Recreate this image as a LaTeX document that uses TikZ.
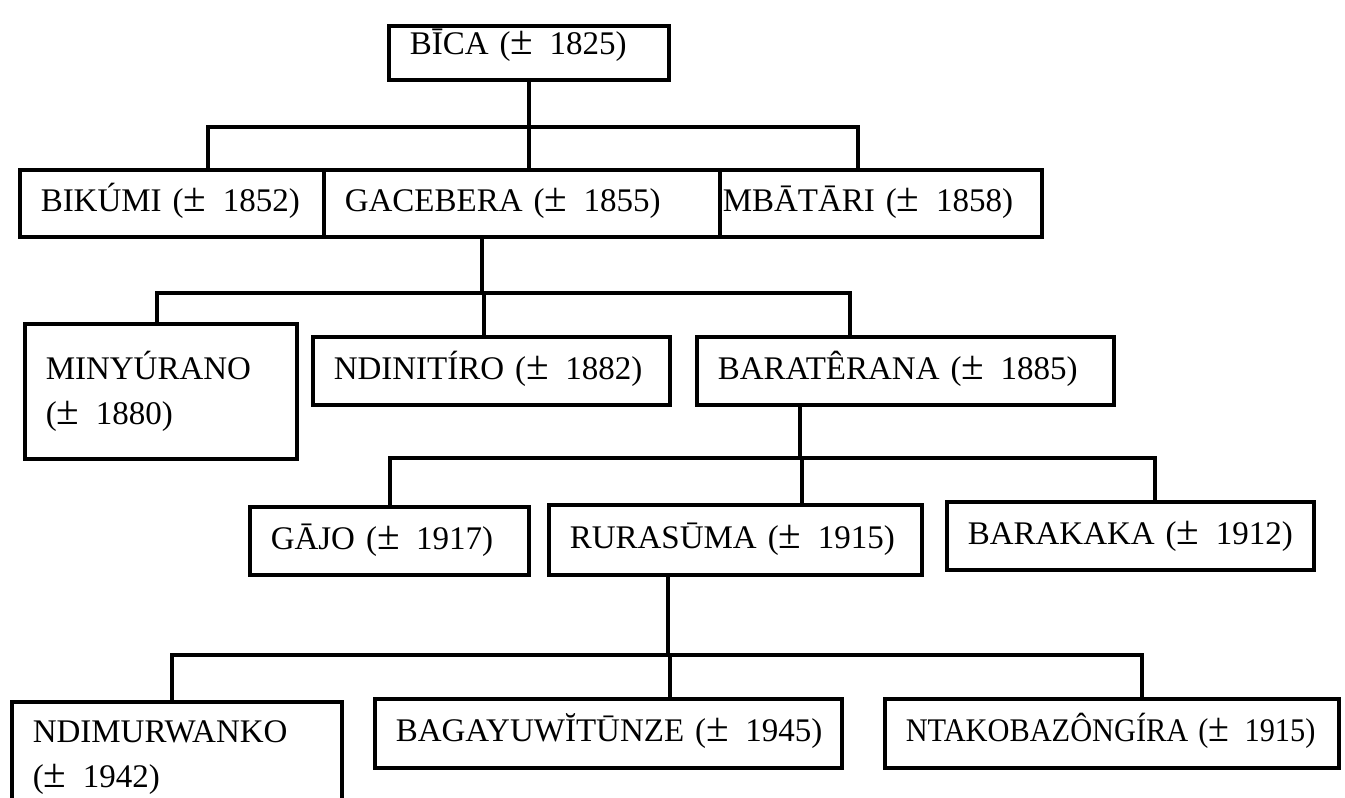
\documentclass[tikz,border=0pt]{standalone}
\usepackage{fontspec}
\setmainfont{Liberation Serif}
\newcommand{\approxyr}[1]{(\scalebox{1.25}{±}~\,#1)}
\begin{document}
\begin{tikzpicture}[x=1pt, y=-1pt,
    famBox/.style={draw, line width=3.5pt, anchor=north west, align=left,
        inner xsep=21pt, inner ysep=0pt, font=\fontsize{33}{45}\selectfont},
    oneLine/.style={text height=24pt, text depth=7pt},
    link/.style={line width=3.5pt}]

    % Frame of the picture
    \useasboundingbox (0,0) rectangle (1345,798);
    \clip (0,0) rectangle (1345,798);

    % Top ancestor
    \node[famBox, oneLine, text depth=20pt, minimum height=54pt, text width=238pt] (bica) at (387,24) {\mbox{BĪCA \approxyr{1825}}};

    % Second generation
    \node[famBox, oneLine, minimum height=67pt, text width=262pt] (bikumi) at (18,168) {\mbox{BIKÚMI \approxyr{1852}}};
    \node[famBox, oneLine, minimum height=67pt, text width=354pt] (gacebera) at (322,168) {\mbox{GACEBERA \approxyr{1855}}};
    \node[famBox, oneLine, minimum height=67pt, inner xsep=3pt, text width=316pt] (mbatari) at (718,168) {\mbox{MBĀTĀRI \approxyr{1858}}};

    % Third generation
    \node[famBox, minimum height=135pt, text width=230pt] (minyurano) at (23,322) {MINYÚRANO\\\approxyr{1880}};
    \node[famBox, oneLine, minimum height=68pt, text width=315pt] (ndinitiro) at (311,335) {\mbox{NDINITÍRO \approxyr{1882}}};
    \node[famBox, oneLine, minimum height=68pt, text width=375pt] (baraterana) at (695,335) {\mbox{BARATÊRANA \approxyr{1885}}};

    % Fourth generation
    \node[famBox, oneLine, minimum height=68pt, text width=237pt] (gajo) at (248,505) {\mbox{GĀJO \approxyr{1917}}};
    \node[famBox, oneLine, minimum height=70pt, text width=331pt] (rurasuma) at (547,503) {\mbox{RURASŪMA \approxyr{1915}}};
    \node[famBox, oneLine, minimum height=68pt, text width=325pt] (barakaka) at (945,500) {\mbox{BARAKAKA \approxyr{1912}}};

    % Fifth generation
    \node[famBox, minimum height=112pt, text width=288pt] (ndimurwanko) at (10,700) {NDIMURWANKO\\\approxyr{1942}};
    \node[famBox, oneLine, minimum height=69pt, text width=425pt] (bagayu) at (373,697) {\mbox{BAGAYUWĬTŪNZE \approxyr{1945}}};
    \node[famBox, oneLine, minimum height=69pt, text width=412pt] (ntako) at (883,697) {\scalebox{0.92}[1]{NTAKOBAZÔNGÍRA \approxyr{1915}}};

    % Junction points of the branches
    \coordinate (busA) at (527,127);
    \coordinate (busB) at (482,293);
    \coordinate (busC) at (800,458);
    \coordinate (busD) at (668,655);

    % Branches below BICA
    \draw[link] (bica.south) |- (busA);
    \draw[link] ([xshift=36pt]bikumi.north) |- (busA) -| ([xshift=-23pt]mbatari.north);
    \draw[link] ([xshift=7pt]gacebera.north) |- (busA);

    % Branches below GACEBERA
    \draw[link] (gacebera.south -| busB) -- (busB);
    \draw[link] ([xshift=-4pt]minyurano.north) |- (busB) -| ([xshift=-55.5pt]baraterana.north);
    \draw[link] ([xshift=-7.5pt]ndinitiro.north) |- (busB);

    % Branches below BARATERANA
    \draw[link] (baraterana.south -| busC) -- (busC);
    \draw[link] ([xshift=0.5pt]gajo.north) |- (busC) -| ([xshift=24.5pt]barakaka.north);
    \draw[link] ([xshift=66.5pt]rurasuma.north) |- (busC);

    % Branches below RURASUMA
    \draw[link] (rurasuma.south -| busD) -- (busD);
    \draw[link] ([xshift=-5pt]ndimurwanko.north) |- (busD) -| ([xshift=30pt]ntako.north);
    \draw[link] ([xshift=61.5pt]bagayu.north) |- (busD);

\end{tikzpicture}
\end{document}
